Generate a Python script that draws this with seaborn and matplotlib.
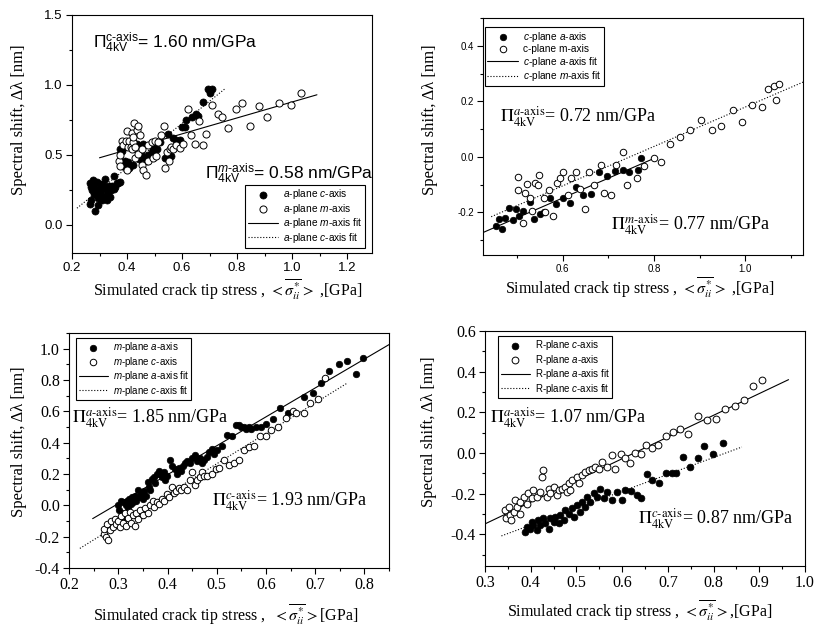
import numpy as np
import pandas as pd
import matplotlib
matplotlib.use("Agg")
import matplotlib.pyplot as plt
import seaborn as sns
from matplotlib.ticker import MultipleLocator

sns.set_style("ticks")
plt.rcParams["font.family"] = ["Liberation Sans", "DejaVu Sans"]
plt.rcParams["mathtext.fontset"] = "custom"
plt.rcParams["mathtext.rm"] = "Liberation Sans"
plt.rcParams["mathtext.it"] = "Liberation Sans:italic"
plt.rcParams["mathtext.bf"] = "Liberation Sans:bold"
plt.rcParams["axes.unicode_minus"] = False
plt.rcParams["text.color"] = "black"
plt.rcParams["axes.labelcolor"] = "black"

SERIF = "Liberation Serif"
SANS = "Liberation Sans"

# ---------------- a-plane (top left) ----------------
a_c_x = [0.264, 0.266, 0.268, 0.269, 0.272, 0.275, 0.278, 0.281, 0.284, 0.286,
         0.290, 0.293, 0.296, 0.298, 0.302, 0.305, 0.308, 0.311, 0.314, 0.317,
         0.320, 0.324, 0.327, 0.330, 0.334, 0.339, 0.343, 0.347, 0.351, 0.354,
         0.358, 0.362, 0.369, 0.375,
         0.375, 0.381, 0.386, 0.393, 0.399, 0.405, 0.408, 0.411, 0.423, 0.428,
         0.435, 0.444, 0.449, 0.459, 0.465, 0.471, 0.477, 0.489, 0.495, 0.501,
         0.509, 0.518, 0.537, 0.549, 0.561, 0.568, 0.577, 0.591, 0.600, 0.609,
         0.616, 0.637, 0.652, 0.658, 0.676, 0.694, 0.702, 0.710]
a_c_y = [0.30, 0.15, 0.27, 0.18, 0.25, 0.32, 0.29, 0.22, 0.10, 0.26,
         0.31, 0.19, 0.14, 0.23, 0.29, 0.25, 0.18, 0.21, 0.29, 0.20,
         0.33, 0.26, 0.18, 0.23, 0.28, 0.20, 0.25, 0.28, 0.26, 0.35,
         0.27, 0.30, 0.30, 0.31,
         0.54, 0.53, 0.42, 0.46, 0.43, 0.45, 0.41, 0.42, 0.43, 0.57,
         0.58, 0.47, 0.51, 0.58, 0.48, 0.46, 0.50, 0.52, 0.55, 0.54,
         0.54, 0.59, 0.48, 0.65, 0.49, 0.62, 0.61, 0.61, 0.70, 0.70,
         0.75, 0.77, 0.79, 0.78, 0.88, 0.97, 0.94, 0.97]
a_m_x = [0.372, 0.375, 0.375, 0.381, 0.386, 0.396, 0.399, 0.401, 0.405, 0.408,
         0.413, 0.417, 0.417, 0.420, 0.423, 0.426, 0.429, 0.429, 0.435, 0.441,
         0.441, 0.447, 0.453, 0.453, 0.459, 0.468, 0.477, 0.477, 0.489, 0.495,
         0.501, 0.507, 0.513, 0.522, 0.534, 0.537, 0.545, 0.553, 0.555, 0.561,
         0.567, 0.579, 0.591, 0.604, 0.621, 0.634, 0.646, 0.661, 0.676, 0.688,
         0.710, 0.730, 0.746, 0.766, 0.796, 0.818, 0.847, 0.878, 0.908, 0.953,
         0.995, 1.033]
a_m_y = [0.46, 0.50, 0.42, 0.60, 0.57, 0.60, 0.39, 0.67, 0.56, 0.60,
         0.56, 0.66, 0.54, 0.59, 0.63, 0.73, 0.56, 0.48, 0.68, 0.71,
         0.51, 0.64, 0.54, 0.43, 0.39, 0.36, 0.57, 0.46, 0.59, 0.48,
         0.60, 0.49, 0.59, 0.64, 0.71, 0.41, 0.52, 0.46, 0.54, 0.56,
         0.54, 0.57, 0.55, 0.58, 0.83, 0.64, 0.58, 0.74, 0.57, 0.65,
         0.86, 0.79, 0.77, 0.69, 0.83, 0.87, 0.71, 0.85, 0.77, 0.87,
         0.86, 0.94]
a_mfit_x = [0.30, 1.09]
a_mfit_y = [0.48, 0.93]
a_cfit_x = [0.218, 0.754]
a_cfit_y = [0.12, 0.97]

# ---------------- c-plane (top right) ----------------
c_a_x = [0.454, 0.461, 0.467, 0.474, 0.483, 0.490, 0.497, 0.503, 0.512, 0.527,
         0.536, 0.549, 0.558, 0.572, 0.585, 0.600, 0.616, 0.629, 0.644, 0.662,
         0.680, 0.697, 0.715, 0.732, 0.746, 0.765, 0.772]
c_a_y = [-0.251, -0.225, -0.260, -0.222, -0.186, -0.228, -0.189, -0.213, -0.195, -0.162,
         -0.225, -0.207, -0.200, -0.147, -0.171, -0.147, -0.168, -0.110, -0.138, -0.134,
         -0.054, -0.068, -0.051, -0.048, -0.054, -0.046, -0.006]
c_m_x = [0.501, 0.501, 0.517, 0.521, 0.527, 0.532, 0.512, 0.540, 0.548, 0.545,
         0.558, 0.562, 0.570, 0.579, 0.587, 0.593, 0.601, 0.611, 0.618, 0.628,
         0.638, 0.649, 0.657, 0.668, 0.683, 0.691, 0.705, 0.717, 0.732, 0.740,
         0.763, 0.779, 0.799, 0.816, 0.836, 0.858, 0.880, 0.903, 0.928, 0.947,
         0.974, 0.993, 1.015, 1.037, 1.050, 1.064, 1.075, 1.068]
c_m_y = [-0.072, -0.120, -0.129, -0.099, -0.147, -0.195, -0.237, -0.093, -0.066, -0.102,
         -0.150, -0.198, -0.120, -0.213, -0.093, -0.078, -0.054, -0.138, -0.078, -0.054,
         -0.117, -0.189, -0.054, -0.102, -0.030, -0.132, -0.138, -0.030, 0.018, -0.102,
         -0.078, -0.032, -0.006, -0.020, 0.046, 0.072, 0.096, 0.132, 0.096, 0.110,
         0.168, 0.126, 0.188, 0.180, 0.246, 0.254, 0.263, 0.204]
c_afit_x = [0.425, 0.800]
c_afit_y = [-0.273, -0.006]
c_mfit_x = [0.443, 1.127]
c_mfit_y = [-0.216, 0.269]

# ---------------- m-plane (bottom left) ----------------
m_a_x = [0.300, 0.302, 0.305, 0.308, 0.310, 0.312, 0.315, 0.318, 0.320, 0.322,
         0.325, 0.328, 0.330, 0.333, 0.336, 0.340, 0.343, 0.346, 0.350, 0.353,
         0.356, 0.360, 0.362, 0.365, 0.368, 0.372, 0.375, 0.378, 0.382, 0.385,
         0.388, 0.392, 0.395, 0.398, 0.405, 0.410, 0.415, 0.420, 0.423, 0.428,
         0.432, 0.436, 0.440, 0.445, 0.450, 0.455, 0.460, 0.465, 0.470, 0.475,
         0.480, 0.485, 0.490, 0.495, 0.500, 0.510, 0.520, 0.530, 0.540, 0.545,
         0.550, 0.555, 0.560, 0.565, 0.570, 0.580, 0.590, 0.600, 0.615, 0.628,
         0.645, 0.677, 0.695, 0.712, 0.728, 0.748, 0.765, 0.782, 0.797]
m_a_y = [0.00, -0.03, 0.03, -0.05, 0.02, -0.08, 0.00, 0.03, -0.02, 0.04,
         0.01, 0.05, 0.02, 0.06, 0.03, 0.10, 0.05, 0.07, 0.04, 0.09,
         0.06, 0.15, 0.12, 0.10, 0.17, 0.18, 0.14, 0.20, 0.22, 0.20,
         0.18, 0.21, 0.16, 0.19, 0.29, 0.25, 0.23, 0.20, 0.24, 0.22,
         0.25, 0.27, 0.28, 0.27, 0.30, 0.32, 0.28, 0.30, 0.27, 0.29,
         0.31, 0.34, 0.36, 0.33, 0.35, 0.38, 0.45, 0.44, 0.51, 0.51,
         0.50, 0.50, 0.49, 0.50, 0.49, 0.50, 0.50, 0.52, 0.55, 0.62,
         0.59, 0.69, 0.72, 0.78, 0.86, 0.90, 0.92, 0.84, 0.94]
m_c_x = [0.270, 0.272, 0.275, 0.278, 0.280, 0.283, 0.286, 0.290, 0.293, 0.296,
         0.300, 0.303, 0.306, 0.310, 0.313, 0.316, 0.320, 0.323, 0.326, 0.330,
         0.333, 0.337, 0.340, 0.345, 0.350, 0.355, 0.360, 0.365, 0.370, 0.373,
         0.378, 0.383, 0.388, 0.393, 0.398, 0.403, 0.410, 0.413, 0.418, 0.423,
         0.428, 0.433, 0.440, 0.445, 0.450, 0.455, 0.460, 0.465, 0.470, 0.475,
         0.480, 0.490, 0.498, 0.505, 0.515, 0.525, 0.535, 0.545, 0.555, 0.565,
         0.575, 0.588, 0.600, 0.610, 0.625, 0.640, 0.655, 0.660, 0.678, 0.690,
         0.705, 0.720]
m_c_y = [-0.18, -0.15, -0.20, -0.12, -0.22, -0.16, -0.10, -0.14, -0.09, -0.12,
         -0.10, -0.14, -0.07, -0.11, -0.05, -0.13, -0.08, -0.04, -0.11, -0.06,
         -0.13, -0.05, -0.09, -0.03, -0.06, -0.02, -0.05, 0.00, 0.03, -0.01,
         0.02, 0.01, 0.04, 0.03, 0.07, 0.05, 0.12, 0.08, 0.09, 0.11,
         0.10, 0.12, 0.10, 0.16, 0.21, 0.13, 0.16, 0.18, 0.21, 0.19,
         0.19, 0.20, 0.23, 0.24, 0.29, 0.26, 0.27, 0.29, 0.35, 0.37,
         0.38, 0.44, 0.44, 0.48, 0.50, 0.56, 0.60, 0.59, 0.59, 0.65,
         0.68, 0.81]
m_afit_x = [0.248, 0.850]
m_afit_y = [-0.085, 1.026]
m_cfit_x = [0.222, 0.765]
m_cfit_y = [-0.275, 0.780]

# ---------------- R-plane (bottom right) ----------------
r_c_x = [0.388, 0.392, 0.399, 0.403, 0.406, 0.414, 0.417, 0.421, 0.428, 0.432,
         0.439, 0.443, 0.450, 0.454, 0.461, 0.465, 0.472, 0.476, 0.483, 0.490,
         0.494, 0.501, 0.508, 0.512, 0.519, 0.523, 0.530, 0.538, 0.545, 0.552,
         0.560, 0.567, 0.578, 0.589, 0.600, 0.607, 0.619, 0.632, 0.641, 0.655,
         0.665, 0.680, 0.695, 0.710, 0.718, 0.733, 0.748, 0.765, 0.780, 0.798,
         0.820]
r_c_y = [-0.387, -0.362, -0.371, -0.338, -0.354, -0.379, -0.330, -0.354, -0.321, -0.346,
         -0.371, -0.321, -0.338, -0.313, -0.346, -0.305, -0.330, -0.280, -0.297, -0.272,
         -0.313, -0.256, -0.289, -0.240, -0.264, -0.215, -0.240, -0.198, -0.215, -0.174,
         -0.223, -0.190, -0.231, -0.190, -0.231, -0.182, -0.184, -0.205, -0.221, -0.105,
         -0.130, -0.145, -0.100, -0.100, -0.100, -0.020, -0.070, -0.025, 0.035, -0.005,
         0.050]
r_a_x = [0.344, 0.347, 0.352, 0.355, 0.358, 0.363, 0.366, 0.370, 0.377, 0.377,
         0.385, 0.392, 0.395, 0.403, 0.406, 0.414, 0.421, 0.425, 0.427, 0.436,
         0.439, 0.443, 0.450, 0.457, 0.461, 0.468, 0.476, 0.479, 0.483, 0.487,
         0.490, 0.501, 0.505, 0.512, 0.519, 0.527, 0.534, 0.541, 0.549, 0.556,
         0.567, 0.578, 0.585, 0.597, 0.606, 0.617, 0.628, 0.641, 0.652, 0.665,
         0.679, 0.696, 0.712, 0.727, 0.745, 0.765, 0.785, 0.805, 0.825, 0.846,
         0.867, 0.887, 0.907]
r_a_y = [-0.280, -0.320, -0.265, -0.305, -0.330, -0.289, -0.231, -0.264, -0.297, -0.240,
         -0.215, -0.251, -0.198, -0.223, -0.182, -0.215, -0.190, -0.116, -0.084, -0.215,
         -0.174, -0.198, -0.166, -0.207, -0.179, -0.174, -0.166, -0.190, -0.149, -0.182,
         -0.133, -0.116, -0.149, -0.108, -0.092, -0.084, -0.076, -0.067, -0.076, -0.043,
         -0.067, -0.010, -0.076, -0.005, -0.025, -0.049, 0.000, -0.005, 0.041, 0.025,
         0.041, 0.085, 0.103, 0.118, 0.093, 0.180, 0.164, 0.167, 0.218, 0.233,
         0.262, 0.331, 0.361]
r_afit_x = [0.300, 0.964]
r_afit_y = [-0.348, 0.361]
r_cfit_x = [0.336, 0.862]
r_cfit_y = [-0.407, 0.030]

XLABEL_A = r"Simulated crack tip stress , $<\overline{\sigma_{ii}^{*}}>$ ,[GPa]"
XLABEL_M = r"Simulated crack tip stress ,  $<\overline{\sigma_{ii}^{*}}>$[GPa]"
XLABEL_R = r"Simulated crack tip stress , $<\overline{\sigma_{ii}^{*}}>$,[GPa]"
YLABEL = "Spectral shift, \u0394\u03bb [nm]"


def draw_series(ax, fx, fy, flab, hx, hy, hlab, sx, sy, slab, dx, dy, dlab, ms):
    sns.scatterplot(x=fx, y=fy, ax=ax, color="black", edgecolor="black",
                    s=ms, linewidth=0.5, label=flab, zorder=3)
    sns.scatterplot(x=hx, y=hy, ax=ax, color="white", edgecolor="black",
                    s=ms, linewidth=0.7, label=hlab, zorder=3)
    sns.lineplot(x=sx, y=sy, ax=ax, color="black", lw=0.8, label=slab,
                 estimator=None, sort=False)
    sns.lineplot(x=dx, y=dy, ax=ax, color="black", lw=0.8, ls=":", label=dlab,
                 estimator=None, sort=False)


def style_axes(ax, xlim, ylim, xmaj, xmin, ymaj, ymin, tfont, tsize):
    ax.set_xlim(*xlim)
    ax.set_ylim(*ylim)
    ax.xaxis.set_major_locator(MultipleLocator(xmaj))
    ax.xaxis.set_minor_locator(MultipleLocator(xmin))
    ax.yaxis.set_major_locator(MultipleLocator(ymaj))
    ax.yaxis.set_minor_locator(MultipleLocator(ymin))
    ax.tick_params(which="both", direction="out", top=False, right=False,
                   colors="black", width=0.8, labelsize=tsize,
                   labelfontfamily=tfont, pad=2.5)
    ax.tick_params(which="major", length=4)
    ax.tick_params(which="minor", length=2.5)
    for sp in ax.spines.values():
        sp.set_visible(True)
        sp.set_linewidth(0.8)
        sp.set_color("black")


def set_labels(ax, xlabel, xpos, ypos):
    ax.set_xlabel(xlabel, fontsize=11.5, fontfamily=SERIF, math_fontfamily="stix")
    ax.set_ylabel(YLABEL, fontsize=12, fontfamily=SERIF)
    ax.xaxis.set_label_coords(*xpos)
    ax.yaxis.set_label_coords(*ypos)


def add_legend(ax, anchor, fsize):
    h, l = ax.get_legend_handles_labels()
    leg = ax.legend(h, l, loc="upper left", bbox_to_anchor=anchor, fontsize=fsize,
                    frameon=True, fancybox=False, edgecolor="black", framealpha=1,
                    borderaxespad=0, handlelength=3.0, labelspacing=0.05,
                    borderpad=0.25, handletextpad=0.5, scatterpoints=1)
    leg.get_frame().set_linewidth(0.8)
    for t in leg.get_texts():
        t.set_fontfamily(SANS)


def add_note(ax, x, y, text, family, mathfam, size):
    ax.text(x, y, text, transform=ax.transAxes, fontsize=size, fontfamily=family,
            math_fontfamily=mathfam, va="center")


fig = plt.figure(figsize=(8.17, 6.32), dpi=100)
fig.patch.set_facecolor("white")
ax1 = fig.add_axes([0.0881, 0.5997, 0.3672, 0.3766])
ax2 = fig.add_axes([0.5912, 0.5965, 0.3917, 0.3750])
ax3 = fig.add_axes([0.0845, 0.1013, 0.3917, 0.3718])
ax4 = fig.add_axes([0.5936, 0.1044, 0.3917, 0.3718])

# top left: a-plane
draw_series(ax1, a_c_x, a_c_y, r"$a$-plane $c$-axis",
            a_m_x, a_m_y, r"$a$-plane $m$-axis",
            a_mfit_x, a_mfit_y, r"$a$-plane $m$-axis fit",
            a_cfit_x, a_cfit_y, r"$a$-plane $c$-axis fit", 26)
style_axes(ax1, (0.2, 1.29), (-0.2, 1.5), 0.2, 0.1, 0.5, 0.25, SANS, 9.5)
set_labels(ax1, XLABEL_A, (0.52, -0.1), (-0.15, 0.56))
add_legend(ax1, (0.577, 0.286), 7.3)
add_note(ax1, 0.07, 0.884, r"$\Pi^{\text{c-axis}}_{\text{4kV}}$= 1.60 nm/GPa",
         SANS, "custom", 12.5)
add_note(ax1, 0.443, 0.334, r"$\Pi^{m\text{-axis}}_{\text{4kV}}$= 0.58 nm/GPa",
         SANS, "custom", 12.5)

# top right: c-plane
draw_series(ax2, c_a_x, c_a_y, r"$c$-plane $a$-axis",
            c_m_x, c_m_y, "c-plane m-axis",
            c_afit_x, c_afit_y, r"$c$-plane $a$-axis fit",
            c_mfit_x, c_mfit_y, r"$c$-plane $m$-axis fit", 22)
style_axes(ax2, (0.425, 1.127), (-0.354, 0.5), 0.2, 0.1, 0.2, 0.1, SANS, 7)
set_labels(ax2, XLABEL_A, (0.49, -0.085), (-0.14, 0.57))
add_legend(ax2, (0.006, 0.962), 7.3)
add_note(ax2, 0.053, 0.586, r"$\Pi^{a\text{-axis}}_{\text{4kV}}$= 0.72 nm/GPa",
         SERIF, "stix", 13)
add_note(ax2, 0.40, 0.127, r"$\Pi^{m\text{-axis}}_{\text{4kV}}$= 0.77 nm/GPa",
         SERIF, "stix", 13)

# bottom left: m-plane
draw_series(ax3, m_a_x, m_a_y, r"$m$-plane $a$-axis",
            m_c_x, m_c_y, r"$m$-plane $c$-axis",
            m_afit_x, m_afit_y, r"$m$-plane $a$-axis fit",
            m_cfit_x, m_cfit_y, r"$m$-plane $c$-axis fit", 22)
style_axes(ax3, (0.2, 0.85), (-0.4, 1.1), 0.1, 0.05, 0.2, 0.1, SERIF, 11.5)
set_labels(ax3, XLABEL_M, (0.49, -0.145), (-0.13, 0.536))
add_legend(ax3, (0.022, 0.979), 7.0)
add_note(ax3, 0.009, 0.64, r"$\Pi^{a\text{-axis}}_{\text{4kV}}$= 1.85 nm/GPa",
         SERIF, "stix", 13)
add_note(ax3, 0.447, 0.285, r"$\Pi^{c\text{-axis}}_{\text{4kV}}$= 1.93 nm/GPa",
         SERIF, "stix", 13)

# bottom right: R-plane
draw_series(ax4, r_c_x, r_c_y, r"R-plane $c$-axis",
            r_a_x, r_a_y, r"R-plane $a$-axis",
            r_afit_x, r_afit_y, r"R-plane $a$-axis fit",
            r_cfit_x, r_cfit_y, r"R-plane $c$-axis fit", 24)
style_axes(ax4, (0.3, 1.0), (-0.555, 0.6), 0.1, 0.05, 0.2, 0.1, SERIF, 11.5)
set_labels(ax4, XLABEL_R, (0.484, -0.135), (-0.15, 0.57))
add_legend(ax4, (0.041, 0.979), 7.0)
add_note(ax4, 0.016, 0.634, r"$\Pi^{a\text{-axis}}_{\text{4kV}}$= 1.07 nm/GPa",
         SERIF, "stix", 13)
add_note(ax4, 0.478, 0.202, r"$\Pi^{c\text{-axis}}_{\text{4kV}}$= 0.87 nm/GPa",
         SERIF, "stix", 13)

fig.savefig("out.png", dpi=100, facecolor="white")
plt.close(fig)
